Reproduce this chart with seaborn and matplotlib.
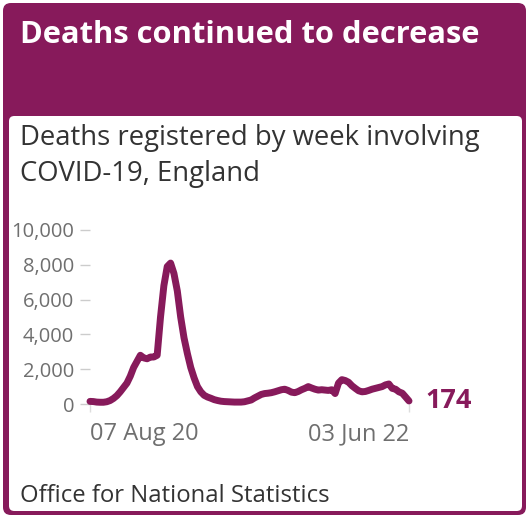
import pandas as pd
import numpy as np
import matplotlib.pyplot as plt
import seaborn as sns
from matplotlib.patches import FancyBboxPatch

# Weekly deaths involving COVID-19, England (week ending 07 Aug 2020 .. 03 Jun 2022)
deaths = [150, 140, 110, 100, 100, 130, 200, 320, 480, 700,
          950, 1200, 1600, 2100, 2450, 2800, 2650, 2600, 2700, 2700,
          2800, 5000, 6800, 7900, 8100, 7500, 6500, 5000, 3800, 2900,
          2100, 1500, 1000, 700, 500, 400, 330, 250, 200, 160,
          140, 130, 120, 110, 110, 110, 130, 180, 230, 350,
          450, 550, 600, 620, 650, 700, 760, 820, 850, 780,
          680, 650, 720, 820, 900, 1000, 920, 850, 800, 820,
          800, 780, 820, 600, 1200, 1400, 1350, 1250, 1050, 900,
          760, 700, 720, 780, 850, 900, 950, 1000, 1100, 1150,
          900, 850, 700, 620, 400, 174]
weeks = pd.date_range('2020-08-07', periods=len(deaths), freq='7D')
y_ticks = [0, 2000, 4000, 6000, 8000, 10000]
x_tick_labels = ['07 Aug 20', '03 Jun 22']

title = 'Deaths continued to decrease'
subtitle = 'Deaths registered by week involving\nCOVID-19, England'
source = 'Office for National Statistics'

purple = '#871a5b'
grey = '#6f6f6f'
dark = '#333333'

df = pd.DataFrame({'week': weeks, 'deaths': deaths})

sns.set_style('white')
plt.rcParams['font.family'] = ['Open Sans', 'DejaVu Sans']

W, H = 528, 518
fig = plt.figure(figsize=(W / 100, H / 100), dpi=100)

# card: purple frame + header, white body
fig.patches.append(FancyBboxPatch((3 / W, 3 / H), 523 / W, 512 / H,
                                  boxstyle='round,pad=0,rounding_size=0.015',
                                  transform=fig.transFigure, facecolor=purple,
                                  edgecolor='none', zorder=-2))
fig.patches.append(FancyBboxPatch((9 / W, (H - 511) / H), 513 / W, (511 - 116) / H,
                                  boxstyle='round,pad=0,rounding_size=0.01',
                                  transform=fig.transFigure, facecolor='white',
                                  edgecolor='none', zorder=-1))

fig.text(20 / W, 1 - 35 / H, title, color='white', fontsize=22.2, fontweight='bold',
         va='center', ha='left')
fig.text(20 / W, 1 - 156 / H, subtitle, color=dark, fontsize=19.8, va='center', ha='left',
         linespacing=1.36)
fig.text(20 / W, 1 - 496 / H, source, color=dark, fontsize=17.2, va='center', ha='left')

ax = fig.add_axes([90 / W, (H - 404) / H, (409 - 90) / W, (404 - 230) / H])
ax.set_zorder(3)
ax.patch.set_alpha(0)
sns.lineplot(data=df, x='week', y='deaths', ax=ax, color=purple, linewidth=5,
             solid_capstyle='round', solid_joinstyle='round', clip_on=False)

ax.set_xlim(weeks[0], weeks[-1])
ax.set_ylim(0, 10000)
ax.set_yticks(y_ticks)
ax.set_yticklabels([f'{v:,}' for v in y_ticks])
ax.set_xticks([weeks[0], weeks[-1]])
ax.set_xticklabels(x_tick_labels)
for lbl, ha in zip(ax.get_xticklabels(), ['left', 'right']):
    lbl.set_ha(ha)
ax.set_xlabel('')
ax.set_ylabel('')
sns.despine(ax=ax, left=True, bottom=True)
ax.tick_params(axis='y', length=7.5, width=1, color='#cccccc', pad=4,
               labelsize=14.5, labelcolor=grey, left=True)
ax.tick_params(axis='x', length=6, width=1, color='#dddddd', pad=7,
               labelsize=17, labelcolor=grey, bottom=True)

# end value label
ax.annotate(f'{deaths[-1]}', xy=(weeks[-1], deaths[-1]), xytext=(12, 0),
            textcoords='offset points', color=purple, fontsize=19.5,
            fontweight='bold', va='center', ha='left', annotation_clip=False)

fig.savefig('out.png', dpi=100)
